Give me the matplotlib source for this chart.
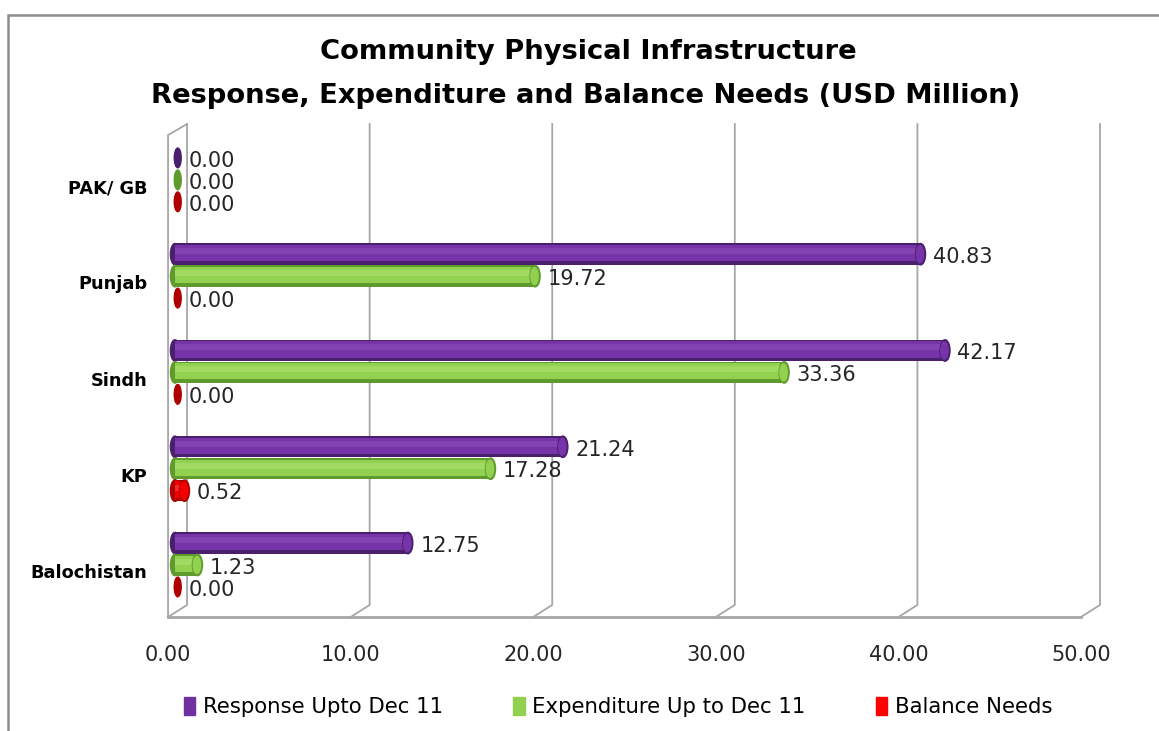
import numpy as np
import matplotlib
matplotlib.use("Agg")
import matplotlib.pyplot as plt
from matplotlib.patches import Ellipse, Patch, Rectangle

# data (USD million)
CATEGORIES = ["Balochistan", "KP", "Sindh", "Punjab", "PAK/ GB"]
RESPONSE = [12.75, 21.24, 42.17, 40.83, 0.00]
EXPENDITURE = [1.23, 17.28, 33.36, 19.72, 0.00]
BALANCE = [0.00, 0.52, 0.00, 0.00, 0.00]
SERIES_NAMES = ["Response Upto Dec 11", "Expenditure Up to Dec 11", "Balance Needs"]
XTICKS = [0, 10, 20, 30, 40, 50]

# (dark edge, body, highlight, legend swatch)
SHADES = [("#4a1f6e", "#7634a8", "#8f52be", "#7030a0"),
          ("#5f9a2c", "#92d050", "#b0e574", "#92d050"),
          ("#b00000", "#f00000", "#ff5050", "#ff0000")]

plt.rcParams.update({"font.family": "DejaVu Sans"})

W, H = 1159, 731
fig = plt.figure(figsize=(W / 100, H / 100), dpi=100)
fig.patch.set_facecolor("white")

# axes box spans the "3D" frame: front-left at x=168px, back-right at 1098px
ax = fig.add_axes([168 / W, 1 - 617 / H, (1098 - 168) / W, (617 - 124) / H])
ax.set_xlim(-0.383, 50.55)
ax.set_ylim(-0.54, 4.58)
ax.axis("off")

BACK_DX, FRONT_DX = 0.66, -0.38      # depth offsets of the back wall / front floor edge
Y_TOP, Y_BACK, Y_FRONT = 4.58, -0.415, -0.54
GRID = "#a6a6a6"

# back-wall gridlines with their perspective foot to the floor edge
for v in XTICKS:
    ax.plot([v + BACK_DX, v + BACK_DX, v + FRONT_DX], [Y_TOP, Y_BACK, Y_FRONT],
            color=GRID, lw=1.3, clip_on=False, zorder=1)
# left side wall and floor edge
ax.plot([FRONT_DX, FRONT_DX, BACK_DX], [Y_FRONT, 4.465, Y_TOP],
        color=GRID, lw=1.3, clip_on=False, zorder=1)
ax.plot([FRONT_DX, 50 + FRONT_DX], [Y_FRONT, Y_FRONT], color=GRID, lw=2.0,
        clip_on=False, zorder=1)

h, step = 0.222, 0.228
y = np.arange(len(CATEGORIES))
for k, vals in enumerate([RESPONSE, EXPENDITURE, BALANCE]):
    dark, body, light, _ = SHADES[k]
    yy = y + (1 - k) * step
    for yi, v in zip(yy, vals):
        if v > 0:
            ax.add_patch(Ellipse((0, yi), 0.5, h, color=dark, zorder=3))
            ax.barh(yi, v, height=h, color=dark, zorder=3)
            ax.barh(yi + h * 0.05, v, height=h * 0.76, color=body, zorder=4)
            ax.barh(yi + h * 0.14, v, height=h * 0.28, color=light, alpha=0.5, zorder=5)
            ax.add_patch(Ellipse((v, yi), 0.55, h, color=dark, zorder=6))
            ax.add_patch(Ellipse((v - 0.03, yi), 0.4, h * 0.8, color=body, zorder=6))
        else:
            ax.add_patch(Ellipse((0.15, yi), 0.38, h * 0.92, color=dark, zorder=6))
        ax.annotate(f"{v:.2f}", (v, yi), xytext=(9 if v > 0 else 10, -2),
                    textcoords="offset points", ha="left", va="center",
                    fontsize=15, color="#262626", zorder=7)

# category labels
for yi, lab in zip(y, CATEGORIES):
    ax.text(-1.5, yi - 0.085, lab, ha="right", va="center", fontsize=12.8,
            fontweight="bold", color="black")

# value axis labels sit on the front floor edge
for v in XTICKS:
    ax.text(v + FRONT_DX, -0.93, f"{v:.2f}", ha="center", va="center",
            fontsize=15, color="#262626")

fig.text(588 / W, 1 - 52 / H, "Community Physical Infrastructure", ha="center",
         va="center", fontsize=19.7, fontweight="bold")
fig.text(586 / W, 1 - 96 / H, "Response, Expenditure and Balance Needs (USD Million)",
         ha="center", va="center", fontsize=19.7, fontweight="bold")

handles = [Patch(color=s[3]) for s in SHADES]
fig.legend(handles, SERIES_NAMES, loc="center", bbox_to_anchor=(618 / W, 1 - 707 / H),
           ncol=3, frameon=False, fontsize=15.3, handlelength=0.55, handleheight=0.9,
           handletextpad=0.35, columnspacing=3.3)

# outer chart-area border (runs off the right and bottom of the crop)
fig.patches.append(Rectangle((8 / W, -0.05), 1.1, 1 - 15 / H + 0.05,
                             transform=fig.transFigure, fill=False,
                             edgecolor="#8c8c8c", lw=1.8))

fig.savefig("out.png", dpi=100)
